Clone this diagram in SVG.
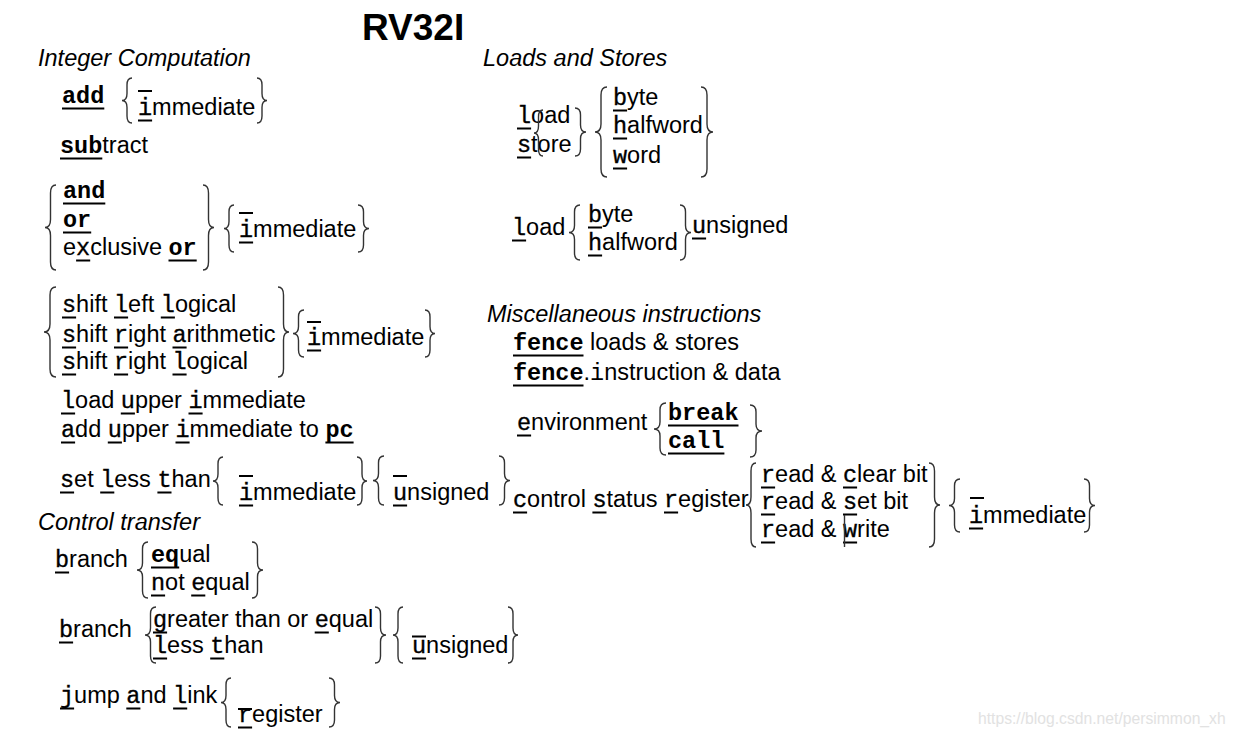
<svg xmlns="http://www.w3.org/2000/svg" width="1235" height="737" viewBox="0 0 1235 737">
<style>
text{font-family:"Liberation Sans",Arial,sans-serif;font-size:23.5px;fill:#000}
.mb{font-family:"Liberation Mono","Courier New",monospace;font-weight:bold}
.mr{font-family:"Liberation Mono","Courier New",monospace}
.ms{font-family:"Liberation Mono","Courier New",monospace;stroke:#000;stroke-width:0.35}
.h{font-style:italic}
.title{font-size:37px;font-weight:bold}
.ul{stroke:#000;stroke-width:2.2;fill:none}
.br{stroke:#333;stroke-width:1.4;fill:none}
.wm{font-size:15.7px;fill:#e2e2e2}
</style>
<rect width="1235" height="737" fill="#fff"/>

<g id="headers">
<text class="title" x="362" y="40">RV32I</text>
<text class="h" x="38" y="66">Integer Computation</text>
<text class="h" x="483" y="66">Loads and Stores</text>
<text class="h" x="487" y="322">Miscellaneous instructions</text>
<text class="h" x="38" y="530">Control transfer</text>
</g>

<g id="add"><text x="62" y="103"><tspan class="mb">add</tspan></text>
<text x="138" y="115"><tspan class="ms">i</tspan><tspan x="152.1">mmediate</tspan></text></g>
<g id="sub"><text x="60" y="153"><tspan class="mb">sub</tspan><tspan x="102.3">tract</tspan></text></g>
<g id="logic">
<text x="63" y="198"><tspan class="mb">and</tspan></text>
<text x="63" y="227"><tspan class="mb">or</tspan></text>
<text x="63" y="255">e<tspan class="ms" x="76.1">x</tspan><tspan x="90.2">clusive </tspan><tspan class="mb" x="168.5">or</tspan></text>
<text x="239" y="237"><tspan class="ms">i</tspan><tspan x="253.1">mmediate</tspan></text>
</g>
<g id="shift">
<text x="62" y="312"><tspan class="ms">s</tspan><tspan x="76.1">hift </tspan><tspan class="ms" x="114">l</tspan><tspan x="128.1">eft </tspan><tspan class="ms" x="160.8">l</tspan><tspan x="174.9">ogical</tspan></text>
<text x="62" y="342"><tspan class="ms">s</tspan><tspan x="76.1">hift </tspan><tspan class="ms" x="114">r</tspan><tspan x="128.1">ight </tspan><tspan class="ms" x="172.5">a</tspan><tspan x="186.6">rithmetic</tspan></text>
<text x="62" y="369"><tspan class="ms">s</tspan><tspan x="76.1">hift </tspan><tspan class="ms" x="114">r</tspan><tspan x="128.1">ight </tspan><tspan class="ms" x="172.5">l</tspan><tspan x="186.6">ogical</tspan></text>
<text x="307" y="345"><tspan class="ms">i</tspan><tspan x="321.1">mmediate</tspan></text>
</g>
<g id="lui"><text x="61" y="408"><tspan class="ms">l</tspan><tspan x="75.1">oad </tspan><tspan class="ms" x="120.8">u</tspan><tspan x="134.9">pper </tspan><tspan class="ms" x="188.5">i</tspan><tspan x="202.6">mmediate</tspan></text></g>
<g id="auipc"><text x="61" y="437"><tspan class="ms">a</tspan><tspan x="75.1">dd </tspan><tspan class="ms" x="107.8">u</tspan><tspan x="121.9">pper </tspan><tspan class="ms" x="175.5">i</tspan><tspan x="189.6">mmediate to </tspan><tspan class="mb" x="325.4">pc</tspan></text></g>
<g id="slt">
<text x="60" y="487"><tspan class="ms">s</tspan><tspan x="74.1">et </tspan><tspan class="ms" x="100.2">l</tspan><tspan x="114.3">ess </tspan><tspan class="ms" x="157.4">t</tspan><tspan x="171.5">han</tspan></text>
<text x="239" y="500"><tspan class="ms">i</tspan><tspan x="253.1">mmediate</tspan></text>
<text x="393" y="500"><tspan class="ms">u</tspan><tspan x="407.1">nsigned</tspan></text>
</g>
<g id="beq">
<text x="55" y="567"><tspan class="ms">b</tspan><tspan x="69.1">ranch</tspan></text>
<text x="151" y="562"><tspan class="mb">eq</tspan><tspan x="179.2">ual</tspan></text>
<text x="151" y="590"><tspan class="ms">n</tspan><tspan x="165.1">ot </tspan><tspan class="ms" x="191.2">e</tspan><tspan x="205.3">qual</tspan></text>
</g>
<g id="bge">
<text x="59" y="637"><tspan class="ms">b</tspan><tspan x="73.1">ranch</tspan></text>
<text x="153" y="627"><tspan class="ms">g</tspan><tspan x="167.1">reater than or </tspan><tspan class="ms" x="314.7">e</tspan><tspan x="328.8">qual</tspan></text>
<text x="153" y="653"><tspan class="ms">l</tspan><tspan x="167.1">ess </tspan><tspan class="ms" x="210.2">t</tspan><tspan x="224.3">han</tspan></text>
<text x="412" y="653"><tspan class="ms">u</tspan><tspan x="426.1">nsigned</tspan></text>
</g>
<g id="jal">
<text x="60" y="703"><tspan class="ms">j</tspan><tspan x="74.1">ump </tspan><tspan class="ms" x="126.3">a</tspan><tspan x="140.4">nd </tspan><tspan class="ms" x="173.1">l</tspan><tspan x="187.2">ink</tspan></text>
<text x="238" y="722"><tspan class="ms">r</tspan><tspan x="252.1">egister</tspan></text>
</g>

<g id="loadstore">
<text x="517" y="123"><tspan class="ms">l</tspan><tspan x="531.1">oad</tspan></text>
<text x="517" y="152"><tspan class="ms">s</tspan><tspan x="531.1">tore</tspan></text>
<text x="613" y="105"><tspan class="ms">b</tspan><tspan x="627.1">yte</tspan></text>
<text x="613" y="133"><tspan class="ms">h</tspan><tspan x="627.1">alfword</tspan></text>
<text x="613" y="163"><tspan class="ms">w</tspan><tspan x="627.1">ord</tspan></text>
</g>
<g id="loadu">
<text x="512" y="235"><tspan class="ms">l</tspan><tspan x="526.1">oad</tspan></text>
<text x="588" y="222"><tspan class="ms">b</tspan><tspan x="602.1">yte</tspan></text>
<text x="588" y="250"><tspan class="ms">h</tspan><tspan x="602.1">alfword</tspan></text>
<text x="692" y="233"><tspan class="ms">u</tspan><tspan x="706.1">nsigned</tspan></text>
</g>
<g id="fence">
<text x="513" y="350"><tspan class="mb">fence</tspan> loads &amp; stores</text>
<text x="513" y="380"><tspan class="mb">fence</tspan>.<tspan class="mr">i</tspan>nstruction &amp; data</text>
</g>
<g id="env">
<text x="517" y="430"><tspan class="ms">e</tspan><tspan x="531.1">nvironment</tspan></text>
<text x="668" y="420"><tspan class="mb">break</tspan></text>
<text x="668" y="448"><tspan class="mb">call</tspan></text>
</g>
<g id="csr">
<text x="513" y="507"><tspan class="ms">c</tspan><tspan x="527.1">ontrol </tspan><tspan class="ms" x="592.4">s</tspan><tspan x="606.5">tatus </tspan><tspan class="ms" x="664">r</tspan><tspan x="678.1">egister</tspan></text>
<text x="761" y="482"><tspan class="ms">r</tspan><tspan x="775.1">ead &amp; </tspan><tspan class="ms" x="843">c</tspan><tspan x="857.1">lear bit</tspan></text>
<text x="761" y="509"><tspan class="ms">r</tspan><tspan x="775.1">ead &amp; </tspan><tspan class="ms" x="843">s</tspan><tspan x="857.1">et bit</tspan></text>
<text x="761" y="537"><tspan class="ms">r</tspan><tspan x="775.1">ead &amp; </tspan><tspan class="ms" x="843">w</tspan><tspan x="857.1">rite</tspan></text>
<text x="969" y="523"><tspan class="ms">i</tspan><tspan x="983.1">mmediate</tspan></text>
</g>

<g id="underlines">
<path class="ul" d="M62,108.5H104.3 M138,91H152 M138,120.5H152.1 M60,158.5H102.3 M63,203.5H105.3 M63,232.5H91.2 M76.1,260.5H90.2 M168.5,260.5H196.7 M239,213H253 M239,242.5H253.1
M62,317.5H76.1 M114,317.5H128.1 M160.8,317.5H174.9 M62,347.5H76.1 M114,347.5H128.1 M172.5,347.5H186.6 M62,374.5H76.1 M114,374.5H128.1 M172.5,374.5H186.6 M307,322H321 M307,350.5H321.1
M61,413.5H75.1 M120.8,413.5H134.9 M188.5,413.5H202.6 M61,442.5H75.1 M107.8,442.5H121.9 M175.5,442.5H189.6 M325.4,442.5H353.6
M60,492.5H74.1 M100.2,492.5H114.3 M157.4,492.5H171.5 M239,476H253 M239,505.5H253.1 M393,476H407 M393,505.5H407.1
M55,572.5H69.1 M151,567.5H179.2 M151,595.5H165.1 M191.2,595.5H205.3
M59,642.5H73.1 M153,632.5H167.1 M314.7,632.5H328.8 M153,658.5H167.1 M210.2,658.5H224.3 M412,636.5H426 M412,658.5H426.1
M60,708.5H74.1 M126.3,708.5H140.4 M173.1,708.5H187.2 M238,709H252 M238,727.5H252.1
M517,128.5H531.1 M517,157.5H531.1 M613,110.5H627.1 M613,138.5H627.1 M613,168.5H627.1
M512,240.5H526.1 M588,227.5H602.1 M588,255.5H602.1 M692,238.5H706.1
M513,355.5H583.5 M513,385.5H583.5 M517,435.5H531.1 M668,425.5H738.5 M668,453.5H724.4
M513,512.5H527.1 M592.4,512.5H606.5 M664,512.5H678.1 M761,487.5H775.1 M843,487.5H857.1 M761,514.5H775.1 M843,514.5H857.1 M761,542.5H775.1 M843,542.5H857.1 M970,498H984 M969,528.5H983.1"/>
<path class="br" d="M844.5,515V547"/>
</g>

<g id="braces" class="br">
<path d="M132,78 Q127,78 127,85 L127,93.5 Q127,100.5 122,100.5 Q127,100.5 127,107.5 L127,116 Q127,123 132,123"/>
<path d="M257,78 Q262,78 262,85 L262,93.5 Q262,100.5 267,100.5 Q262,100.5 262,107.5 L262,116 Q262,123 257,123"/>
<path d="M56,185 Q50.5,185 50.5,193 L50.5,219.5 Q50.5,227.5 45,227.5 Q50.5,227.5 50.5,235.5 L50.5,262 Q50.5,270 56,270"/>
<path d="M203,185 Q208.5,185 208.5,193 L208.5,219.5 Q208.5,227.5 214,227.5 Q208.5,227.5 208.5,235.5 L208.5,262 Q208.5,270 203,270"/>
<path d="M234,205 Q229,205 229,212 L229,221.5 Q229,228.5 224,228.5 Q229,228.5 229,235.5 L229,245 Q229,252 234,252"/>
<path d="M358,205 Q363.5,205 363.5,212 L363.5,221.5 Q363.5,228.5 369,228.5 Q363.5,228.5 363.5,235.5 L363.5,245 Q363.5,252 358,252"/>
<path d="M56,287 Q50,287 50,295 L50,324 Q50,332 44,332 Q50,332 50,340 L50,369 Q50,377 56,377"/>
<path d="M278,287 Q283.5,287 283.5,295 L283.5,324 Q283.5,332 289,332 Q283.5,332 283.5,340 L283.5,369 Q283.5,377 278,377"/>
<path d="M304,310 Q298.5,310 298.5,317 L298.5,326.5 Q298.5,333.5 293,333.5 Q298.5,333.5 298.5,340.5 L298.5,350 Q298.5,357 304,357"/>
<path d="M425,310 Q430,310 430,317 L430,326.5 Q430,333.5 435,333.5 Q430,333.5 430,340.5 L430,350 Q430,357 425,357"/>
<path d="M223,457 Q218,457 218,464 L218,474 Q218,481 213,481 Q218,481 218,488 L218,498 Q218,505 223,505"/>
<path d="M357,457 Q362,457 362,464 L362,474 Q362,481 367,481 Q362,481 362,488 L362,498 Q362,505 357,505"/>
<path d="M384,456 Q378.5,456 378.5,463 L378.5,473.5 Q378.5,480.5 373,480.5 Q378.5,480.5 378.5,487.5 L378.5,498 Q378.5,505 384,505"/>
<path d="M499,456 Q504.5,456 504.5,463 L504.5,473.5 Q504.5,480.5 510,480.5 Q504.5,480.5 504.5,487.5 L504.5,498 Q504.5,505 499,505"/>
<path d="M148,542 Q142.5,542 142.5,549 L142.5,563 Q142.5,570 137,570 Q142.5,570 142.5,577 L142.5,591 Q142.5,598 148,598"/>
<path d="M252,542 Q257.5,542 257.5,549 L257.5,563 Q257.5,570 263,570 Q257.5,570 257.5,577 L257.5,591 Q257.5,598 252,598"/>
<path d="M156,607 Q150.5,607 150.5,614 L150.5,628 Q150.5,635 145,635 Q150.5,635 150.5,642 L150.5,656 Q150.5,663 156,663"/>
<path d="M375,607 Q380.5,607 380.5,614 L380.5,628 Q380.5,635 386,635 Q380.5,635 380.5,642 L380.5,656 Q380.5,663 375,663"/>
<path d="M403,607 Q398,607 398,614 L398,628 Q398,635 393,635 Q398,635 398,642 L398,656 Q398,663 403,663"/>
<path d="M508,607 Q513,607 513,614 L513,628 Q513,635 518,635 Q513,635 513,642 L513,656 Q513,663 508,663"/>
<path d="M231,678 Q226,678 226,685 L226,695.5 Q226,702.5 221,702.5 Q226,702.5 226,709.5 L226,720 Q226,727 231,727"/>
<path d="M329,678 Q334.5,678 334.5,685 L334.5,695.5 Q334.5,702.5 340,702.5 Q334.5,702.5 334.5,709.5 L334.5,720 Q334.5,727 329,727"/>
<path d="M543,110 Q538.5,110 538.5,117 L538.5,126 Q538.5,133 534,133 Q538.5,133 538.5,140 L538.5,149 Q538.5,156 543,156"/>
<path d="M575,108 Q580.5,108 580.5,115 L580.5,125 Q580.5,132 586,132 Q580.5,132 580.5,139 L580.5,149 Q580.5,156 575,156"/>
<path d="M607,87 Q601,87 601,95 L601,124 Q601,132 595,132 Q601,132 601,140 L601,169 Q601,177 607,177"/>
<path d="M701,87 Q707,87 707,95 L707,124 Q707,132 713,132 Q707,132 707,140 L707,169 Q707,177 701,177"/>
<path d="M580,205 Q574.5,205 574.5,212 L574.5,225.5 Q574.5,232.5 569,232.5 Q574.5,232.5 574.5,239.5 L574.5,253 Q574.5,260 580,260"/>
<path d="M680,205 Q685.5,205 685.5,212 L685.5,225.5 Q685.5,232.5 691,232.5 Q685.5,232.5 685.5,239.5 L685.5,253 Q685.5,260 680,260"/>
<path d="M666,403 Q660,403 660,410 L660,422 Q660,429 654,429 Q660,429 660,436 L660,448 Q660,455 666,455"/>
<path d="M750,405 Q756,405 756,412 L756,424 Q756,431 762,431 Q756,431 756,438 L756,450 Q756,457 750,457"/>
<path d="M756,463 Q751,463 751,471 L751,497 Q751,505 746,505 Q751,505 751,513 L751,539 Q751,547 756,547"/>
<path d="M929,463 Q934.5,463 934.5,471 L934.5,497 Q934.5,505 940,505 Q934.5,505 934.5,513 L934.5,539 Q934.5,547 929,547"/>
<path d="M960,479 Q954.5,479 954.5,486 L954.5,498.5 Q954.5,505.5 949,505.5 Q954.5,505.5 954.5,512.5 L954.5,525 Q954.5,532 960,532"/>
<path d="M1084,479 Q1089.5,479 1089.5,486 L1089.5,498.5 Q1089.5,505.5 1095,505.5 Q1089.5,505.5 1089.5,512.5 L1089.5,525 Q1089.5,532 1084,532"/>
</g>

<text class="wm" x="978" y="724">https://blog.csdn.net/persimmon_xh</text>
</svg>
